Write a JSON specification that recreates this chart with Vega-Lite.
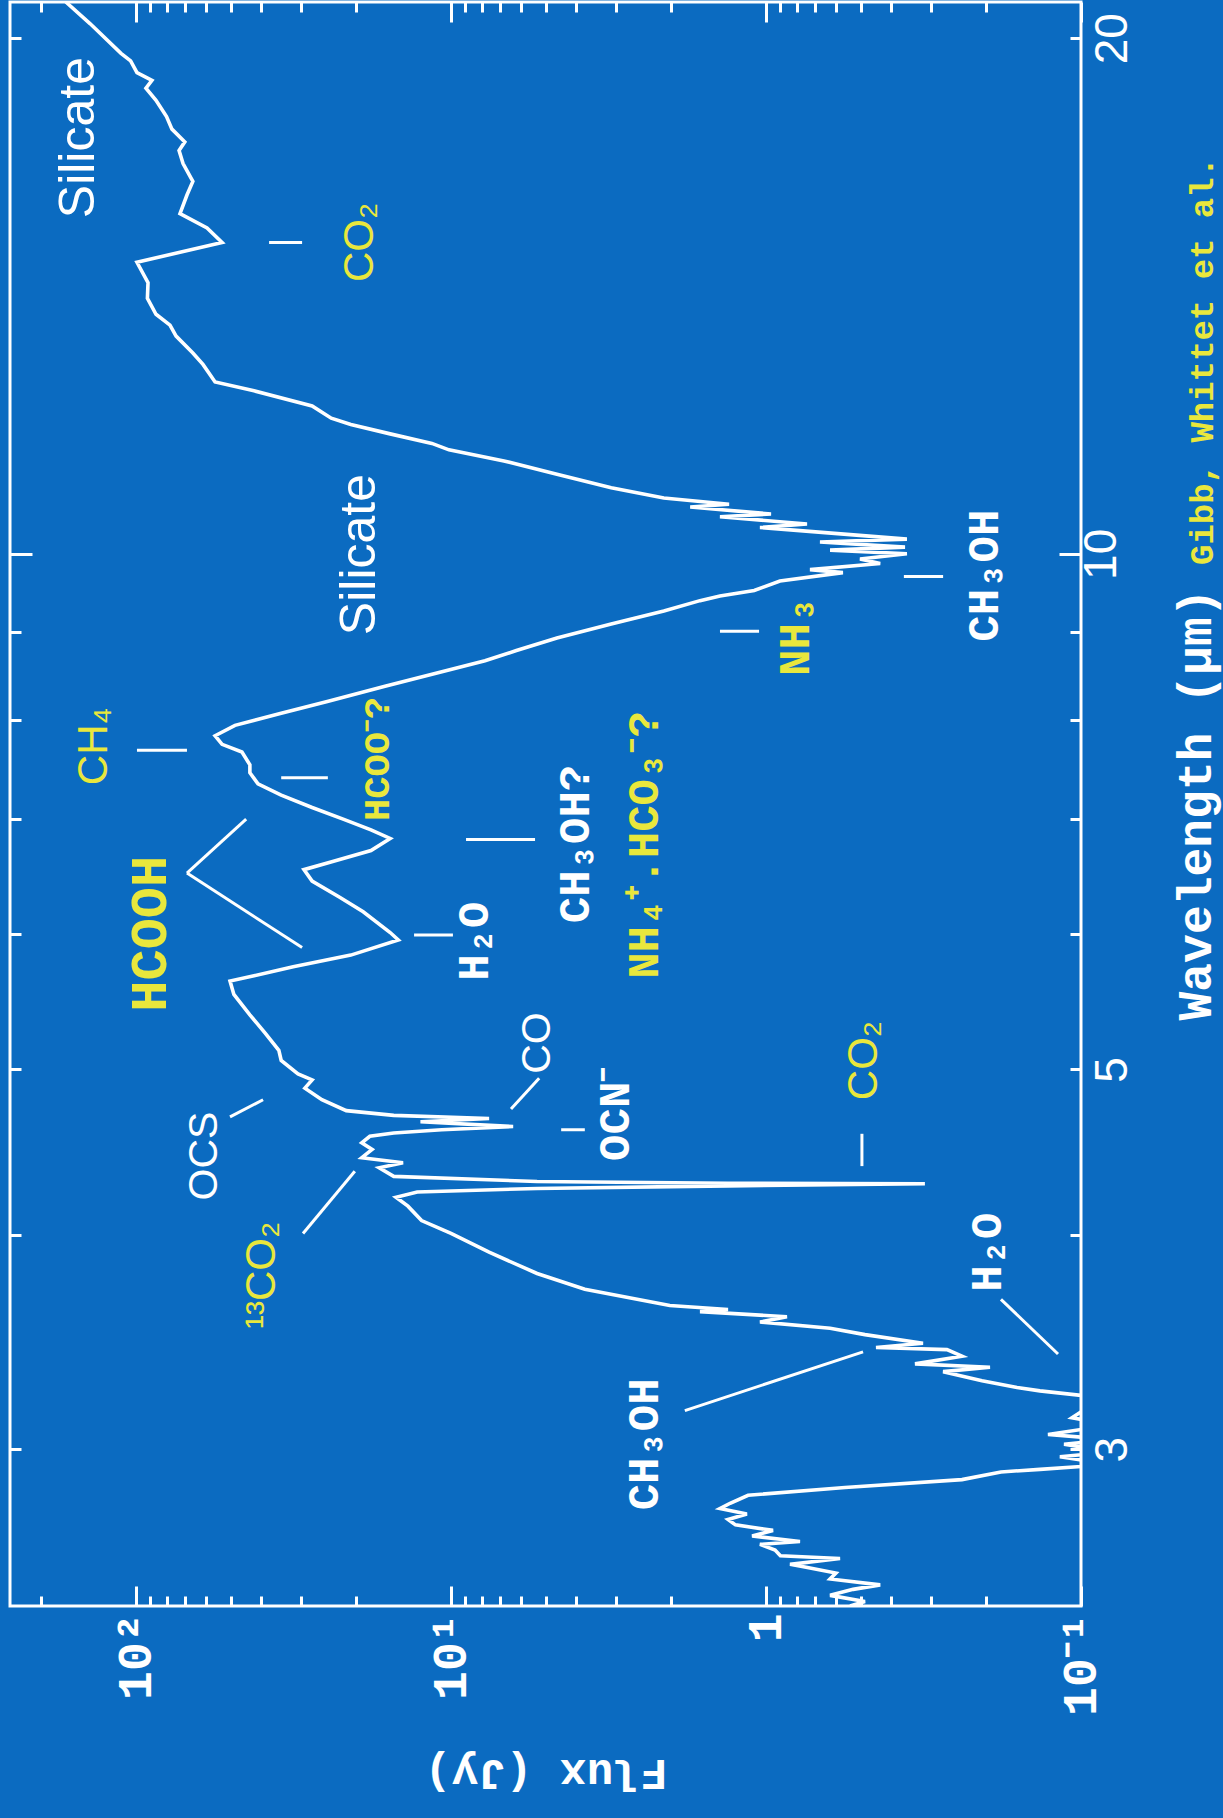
{
  "$schema": "https://vega.github.io/schema/vega-lite/v6.json",
  "width": 1071,
  "height": 1604,
  "autosize": {"type": "none"},
  "padding": {"left": 10, "top": 2, "right": 142, "bottom": 212},
  "background": "#0b6bc1",
  "config": {
    "view": {"stroke": "#ffffff", "strokeWidth": 3},
    "axis": {"domain": false, "grid": false, "tickColor": "#ffffff", "tickWidth": 3, "labelColor": "#ffffff", "titleColor": "#ffffff", "labelOverlap": false, "labelBound": false, "labelFlush": false}
  },
  "datasets": {
    "spec": [
      {"w": 2.43, "f": 0.541}, {"w": 2.445, "f": 0.485}, {"w": 2.465, "f": 0.626}, {"w": 2.485, "f": 0.529},
      {"w": 2.5, "f": 0.434}, {"w": 2.52, "f": 0.626}, {"w": 2.54, "f": 0.6}, {"w": 2.56, "f": 0.746}, {"w": 2.57, "f": 0.839},
      {"w": 2.59, "f": 0.582}, {"w": 2.6, "f": 0.9}, {"w": 2.62, "f": 0.936}, {"w": 2.64, "f": 1.045}, {"w": 2.65, "f": 0.78},
      {"w": 2.67, "f": 1.107}, {"w": 2.69, "f": 0.95}, {"w": 2.71, "f": 1.25}, {"w": 2.73, "f": 1.32}, {"w": 2.75, "f": 1.15},
      {"w": 2.77, "f": 1.4}, {"w": 2.79, "f": 1.3}, {"w": 2.82, "f": 1.14},
      {"w": 2.85, "f": 0.561}, {"w": 2.88, "f": 0.2387}, {"w": 2.91, "f": 0.1795}, {"w": 2.92, "f": 0.135},
      {"w": 2.94, "f": 0.08}, {"w": 2.97, "f": 0.1167}, {"w": 2.99, "f": 0.08}, {"w": 3.02, "f": 0.1132},
      {"w": 3.04, "f": 0.08}, {"w": 3.06, "f": 0.1273}, {"w": 3.1, "f": 0.08}, {"w": 3.13, "f": 0.1068},
      {"w": 3.215, "f": 0.085}, {"w": 3.245, "f": 0.135}, {"w": 3.26, "f": 0.1596}, {"w": 3.29, "f": 0.2062},
      {"w": 3.33, "f": 0.274}, {"w": 3.35, "f": 0.1945}, {"w": 3.365, "f": 0.3365}, {"w": 3.4, "f": 0.2387},
      {"w": 3.43, "f": 0.2664}, {"w": 3.44, "f": 0.4475}, {"w": 3.46, "f": 0.3174}, {"w": 3.5, "f": 0.485},
      {"w": 3.53, "f": 0.626}, {"w": 3.56, "f": 1.045}, {"w": 3.585, "f": 0.858}, {"w": 3.61, "f": 1.62},
      {"w": 3.62, "f": 1.32}, {"w": 3.64, "f": 2.02}, {"w": 3.72, "f": 3.76}, {"w": 3.8, "f": 5.33},
      {"w": 3.91, "f": 7.57}, {"w": 4.01, "f": 10.0}, {"w": 4.08, "f": 12.4}, {"w": 4.16, "f": 13.7},
      {"w": 4.21, "f": 14.95}, {"w": 4.24, "f": 12.8}, {"w": 4.26, "f": 5.33}, {"w": 4.275, "f": 1.32},
      {"w": 4.287, "f": 0.313}, {"w": 4.29, "f": 1.32}, {"w": 4.3, "f": 5.33}, {"w": 4.33, "f": 15.2},
      {"w": 4.38, "f": 16.9}, {"w": 4.41, "f": 14.2}, {"w": 4.44, "f": 19.2}, {"w": 4.49, "f": 17.8},
      {"w": 4.53, "f": 19.2}, {"w": 4.57, "f": 18.1}, {"w": 4.59, "f": 15.2}, {"w": 4.61, "f": 10.7},
      {"w": 4.63, "f": 6.35}, {"w": 4.66, "f": 12.5}, {"w": 4.68, "f": 7.57}, {"w": 4.7, "f": 15.2},
      {"w": 4.73, "f": 21.5}, {"w": 4.8, "f": 25.7}, {"w": 4.875, "f": 29.1}, {"w": 4.93, "f": 27.6},
      {"w": 4.97, "f": 30.6}, {"w": 5.06, "f": 34.6}, {"w": 5.13, "f": 35.2}, {"w": 5.25, "f": 38.9},
      {"w": 5.38, "f": 43.5}, {"w": 5.53, "f": 48.9}, {"w": 5.63, "f": 50.3}, {"w": 5.67, "f": 42.2},
      {"w": 5.74, "f": 31.7}, {"w": 5.83, "f": 20.8}, {"w": 5.95, "f": 14.7}, {"w": 6.01, "f": 15.6},
      {"w": 6.18, "f": 19.0}, {"w": 6.3, "f": 22.5}, {"w": 6.44, "f": 27.6}, {"w": 6.54, "f": 29.3},
      {"w": 6.61, "f": 23.9}, {"w": 6.71, "f": 17.95}, {"w": 6.82, "f": 15.6}, {"w": 6.9, "f": 17.95},
      {"w": 7.0, "f": 22.0}, {"w": 7.11, "f": 27.6}, {"w": 7.23, "f": 34.6}, {"w": 7.34, "f": 41.0},
      {"w": 7.45, "f": 43.5}, {"w": 7.53, "f": 43.5}, {"w": 7.66, "f": 46.1}, {"w": 7.74, "f": 53.3},
      {"w": 7.83, "f": 56.1}, {"w": 7.94, "f": 48.5}, {"w": 8.07, "f": 34.6}, {"w": 8.2, "f": 24.7},
      {"w": 8.37, "f": 16.2}, {"w": 8.66, "f": 7.8}, {"w": 8.78, "f": 6.2}, {"w": 8.93, "f": 4.61},
      {"w": 9.1, "f": 3.1}, {"w": 9.26, "f": 2.11}, {"w": 9.39, "f": 1.62}, {"w": 9.45, "f": 1.4},
      {"w": 9.52, "f": 1.09}, {"w": 9.64, "f": 0.903}, {"w": 9.75, "f": 0.57}, {"w": 9.79, "f": 0.725},
      {"w": 9.87, "f": 0.434}, {"w": 9.93, "f": 0.503}, {"w": 10.0, "f": 0.357}, {"w": 10.05, "f": 0.626},
      {"w": 10.09, "f": 0.362}, {"w": 10.16, "f": 0.674}, {"w": 10.2, "f": 0.357}, {"w": 10.36, "f": 1.045},
      {"w": 10.41, "f": 0.741}, {"w": 10.51, "f": 1.4}, {"w": 10.55, "f": 0.964}, {"w": 10.65, "f": 1.74},
      {"w": 10.69, "f": 1.31}, {"w": 10.78, "f": 2.11}, {"w": 10.93, "f": 3.1}, {"w": 11.13, "f": 4.61},
      {"w": 11.33, "f": 6.79}, {"w": 11.5, "f": 10.15}, {"w": 11.6, "f": 11.5}, {"w": 11.75, "f": 15.6}, {"w": 11.9, "f": 20.8},
      {"w": 12.0, "f": 24.0}, {"w": 12.2, "f": 27.6}, {"w": 12.45, "f": 42.2}, {"w": 12.6, "f": 56.1}, {"w": 12.9, "f": 61.3},
      {"w": 13.1, "f": 66.0}, {"w": 13.4, "f": 74.6}, {"w": 13.6, "f": 78.0}, {"w": 13.8, "f": 86.4}, {"w": 14.1, "f": 92.0},
      {"w": 14.4, "f": 91.6}, {"w": 14.8, "f": 99.3},
      {"w": 15.0, "f": 72.5}, {"w": 15.2, "f": 53.3}, {"w": 15.5, "f": 59.5}, {"w": 15.8, "f": 72.5},
      {"w": 16.2, "f": 68.9}, {"w": 16.5, "f": 66.0}, {"w": 16.9, "f": 70.9}, {"w": 17.2, "f": 73.0}, {"w": 17.4, "f": 70.0},
      {"w": 17.7, "f": 76.9}, {"w": 18.0, "f": 80.0}, {"w": 18.4, "f": 86.4}, {"w": 18.7, "f": 93.0}, {"w": 18.9, "f": 89.0},
      {"w": 19.1, "f": 99.3}, {"w": 19.4, "f": 104.0}, {"w": 19.6, "f": 111.6}, {"w": 20.4, "f": 140}, {"w": 21.0, "f": 167}
    ],
    "marks": [
      {"f1": 37.8, "f2": 29.7, "w1": 15.2, "w2": 15.2},
      {"f1": 99.3, "f2": 68.9, "w1": 7.68, "w2": 7.68},
      {"f1": 44.7, "f2": 68.9, "w1": 7.0, "w2": 6.51},
      {"f1": 68.9, "f2": 29.7, "w1": 6.51, "w2": 5.89},
      {"f1": 34.6, "f2": 24.6, "w1": 7.4, "w2": 7.4},
      {"f1": 13.1, "f2": 9.86, "w1": 5.99, "w2": 5.99},
      {"f1": 8.96, "f2": 5.41, "w1": 6.81, "w2": 6.81},
      {"f1": 6.45, "f2": 5.25, "w1": 4.74, "w2": 4.94},
      {"f1": 4.47, "f2": 3.76, "w1": 4.61, "w2": 4.61},
      {"f1": 0.496, "f2": 0.496, "w1": 4.585, "w2": 4.39},
      {"f1": 29.5, "f2": 20.2, "w1": 4.01, "w2": 4.36},
      {"f1": 50.3, "f2": 39.5, "w1": 4.69, "w2": 4.8},
      {"f1": 1.81, "f2": 0.492, "w1": 3.16, "w2": 3.42},
      {"f1": 0.1795, "f2": 0.1183, "w1": 3.67, "w2": 3.41},
      {"f1": 1.4, "f2": 1.052, "w1": 9.01, "w2": 9.01},
      {"f1": 0.365, "f2": 0.274, "w1": 9.7, "w2": 9.7}
    ],
    "labels": [
      {"f": 151.7, "w": 17.5, "label": "Silicate", "g": "sil"},
      {"f": 19.5, "w": 9.99, "label": "Silicate", "g": "sil"},
      {"f": 5.29, "w": 5.18, "label": "CO", "g": "sw"},
      {"f": 60.4, "w": 4.45, "label": "OCS", "g": "sw"},
      {"f": 19.5, "w": 15.2, "label": "CO₂", "g": "sy"},
      {"f": 136, "w": 7.72, "label": "CH₄", "g": "sy"},
      {"f": 0.488, "w": 5.06, "label": "CO₂", "g": "sy"},
      {"f": 39.8, "w": 3.79, "label": "¹³CO₂", "g": "sy"},
      {"f": 8.39, "w": 5.94, "label": "H₂O", "g": "mw"},
      {"f": 4.01, "w": 6.77, "label": "CH₃OH?", "g": "mw"},
      {"f": 2.99, "w": 4.71, "label": "OCN⁻", "g": "mw"},
      {"f": 2.42, "w": 3.02, "label": "CH₃OH", "g": "mw"},
      {"f": 0.197, "w": 3.91, "label": "H₂O", "g": "mw"},
      {"f": 0.2017, "w": 9.71, "label": "CH₃OH", "g": "mw"},
      {"f": 90.3, "w": 6.0, "label": "HCOOH", "g": "hcooh"},
      {"f": 17.0, "w": 7.59, "label": "HCOO⁻?", "g": "hcoo"},
      {"f": 2.42, "w": 6.76, "label": "NH₄⁺.HCO₃⁻?", "g": "my"},
      {"f": 0.803, "w": 8.95, "label": "NH₃", "g": "my"},
      {"f": 0.041, "w": 12.96, "label": "Gibb, Whittet et al.", "g": "gibb"}
    ]
  },
  "layer": [
    {
      "data": {"name": "spec"},
      "mark": {"type": "line", "color": "#ffffff", "strokeWidth": 3.6, "clip": true},
      "encoding": {
        "x": {
          "field": "f", "type": "quantitative",
          "scale": {"type": "log", "domain": [0.1, 251.2], "reverse": true, "nice": false},
          "axis": {
            "orient": "bottom",
            "values": [0.1, 0.2, 0.3, 0.4, 0.5, 0.6, 0.7, 0.8, 0.9, 1, 2, 3, 4, 5, 6, 7, 8, 9, 10, 20, 30, 40, 50, 60, 70, 80, 90, 100, 200],
            "labelExpr": "datum.value == 100 ? '10²' : datum.value == 10 ? '10¹' : datum.value == 1 ? '1' : datum.value == 0.1 ? '10⁻¹' : ''",
            "tickSize": {"condition": {"test": "datum.value == 0.1 || datum.value == 1 || datum.value == 10 || datum.value == 100", "value": -20}, "value": -10},
            "labelAngle": 270, "labelAlign": "right", "labelBaseline": "middle", "labelPadding": 27,
            "labelFont": "Liberation Mono", "labelFontWeight": "bold", "labelFontSize": 48,
            "title": "Flux (Jy)", "titleFont": "Liberation Mono", "titleFontWeight": "bold", "titleFontSize": 45,
            "titleAngle": 180, "titleBaseline": "bottom", "titlePadding": 35
          }
        },
        "y": {
          "field": "w", "type": "quantitative",
          "scale": {"type": "log", "domain": [2.43, 21], "nice": false},
          "axis": {
            "orient": "right",
            "values": [3, 4, 5, 6, 7, 8, 9, 10, 20],
            "labelExpr": "datum.value == 3 || datum.value == 5 || datum.value == 10 || datum.value == 20 ? '' + datum.value : ''",
            "tickSize": {"condition": {"test": "datum.value == 10", "value": -22}, "value": -11},
            "labelAngle": 270, "labelAlign": "center", "labelBaseline": "top", "labelPadding": 20,
            "labelFont": "Liberation Sans", "labelFontSize": 46,
            "title": "Wavelength (μm)", "titleFont": "Liberation Mono", "titleFontWeight": "bold", "titleFontSize": 48,
            "titleAngle": 270, "titleBaseline": "top", "titlePadding": 37
          }
        },
        "order": {"field": "w", "type": "quantitative"}
      }
    },
    {
      "data": {"name": "marks"},
      "mark": {"type": "rule", "color": "#ffffff", "strokeWidth": 3},
      "encoding": {
        "x": {
          "field": "f1", "type": "quantitative",
          "axis": {
            "orient": "top", "labels": false, "title": null,
            "values": [0.1, 0.2, 0.3, 0.4, 0.5, 0.6, 0.7, 0.8, 0.9, 1, 2, 3, 4, 5, 6, 7, 8, 9, 10, 20, 30, 40, 50, 60, 70, 80, 90, 100, 200],
            "tickSize": {"condition": {"test": "datum.value == 0.1 || datum.value == 1 || datum.value == 10 || datum.value == 100", "value": -20}, "value": -10}
          }
        },
        "x2": {"field": "f2"},
        "y": {
          "field": "w1", "type": "quantitative",
          "axis": {
            "orient": "left", "labels": false, "title": null,
            "values": [3, 4, 5, 6, 7, 8, 9, 10, 20],
            "tickSize": {"condition": {"test": "datum.value == 10", "value": -22}, "value": -11}
          }
        },
        "y2": {"field": "w2"}
      }
    },
    {
      "data": {"name": "labels"},
      "transform": [{"filter": "datum.g == 'sil'"}],
      "mark": {"type": "text", "angle": 270, "align": "center", "baseline": "middle", "font": "Liberation Sans", "fontSize": 50, "color": "#ffffff"},
      "encoding": {
        "x": {"field": "f", "type": "quantitative", "axis": null},
        "y": {"field": "w", "type": "quantitative", "axis": null},
        "text": {"field": "label"}
      }
    },
    {
      "data": {"name": "labels"},
      "transform": [{"filter": "datum.g == 'sw'"}],
      "mark": {"type": "text", "angle": 270, "align": "center", "baseline": "middle", "font": "Liberation Sans", "fontSize": 41, "color": "#ffffff"},
      "encoding": {
        "x": {"field": "f", "type": "quantitative", "axis": null},
        "y": {"field": "w", "type": "quantitative", "axis": null},
        "text": {"field": "label"}
      }
    },
    {
      "data": {"name": "labels"},
      "transform": [{"filter": "datum.g == 'sy'"}],
      "mark": {"type": "text", "angle": 270, "align": "center", "baseline": "middle", "font": "Liberation Sans", "fontSize": 42, "color": "#e9e73c"},
      "encoding": {
        "x": {"field": "f", "type": "quantitative", "axis": null},
        "y": {"field": "w", "type": "quantitative", "axis": null},
        "text": {"field": "label"}
      }
    },
    {
      "data": {"name": "labels"},
      "transform": [{"filter": "datum.g == 'mw'"}],
      "mark": {"type": "text", "angle": 270, "align": "center", "baseline": "middle", "font": "Liberation Mono", "fontWeight": "bold", "fontSize": 44, "color": "#ffffff"},
      "encoding": {
        "x": {"field": "f", "type": "quantitative", "axis": null},
        "y": {"field": "w", "type": "quantitative", "axis": null},
        "text": {"field": "label"}
      }
    },
    {
      "data": {"name": "labels"},
      "transform": [{"filter": "datum.g == 'my'"}],
      "mark": {"type": "text", "angle": 270, "align": "center", "baseline": "middle", "font": "Liberation Mono", "fontWeight": "bold", "fontSize": 44, "color": "#e9e73c"},
      "encoding": {
        "x": {"field": "f", "type": "quantitative", "axis": null},
        "y": {"field": "w", "type": "quantitative", "axis": null},
        "text": {"field": "label"}
      }
    },
    {
      "data": {"name": "labels"},
      "transform": [{"filter": "datum.g == 'hcooh'"}],
      "mark": {"type": "text", "angle": 270, "align": "center", "baseline": "middle", "font": "Liberation Mono", "fontWeight": "bold", "fontSize": 52, "color": "#e9e73c"},
      "encoding": {
        "x": {"field": "f", "type": "quantitative", "axis": null},
        "y": {"field": "w", "type": "quantitative", "axis": null},
        "text": {"field": "label"}
      }
    },
    {
      "data": {"name": "labels"},
      "transform": [{"filter": "datum.g == 'hcoo'"}],
      "mark": {"type": "text", "angle": 270, "align": "center", "baseline": "middle", "font": "Liberation Mono", "fontWeight": "bold", "fontSize": 37, "color": "#e9e73c"},
      "encoding": {
        "x": {"field": "f", "type": "quantitative", "axis": null},
        "y": {"field": "w", "type": "quantitative", "axis": null},
        "text": {"field": "label"}
      }
    },
    {
      "data": {"name": "labels"},
      "transform": [{"filter": "datum.g == 'gibb'"}],
      "mark": {"type": "text", "angle": 270, "align": "center", "baseline": "middle", "font": "Liberation Mono", "fontWeight": "bold", "fontSize": 34, "color": "#e9e73c"},
      "encoding": {
        "x": {"field": "f", "type": "quantitative", "axis": null},
        "y": {"field": "w", "type": "quantitative", "axis": null},
        "text": {"field": "label"}
      }
    }
  ],
  "resolve": {"axis": {"x": "independent", "y": "independent"}}
}
